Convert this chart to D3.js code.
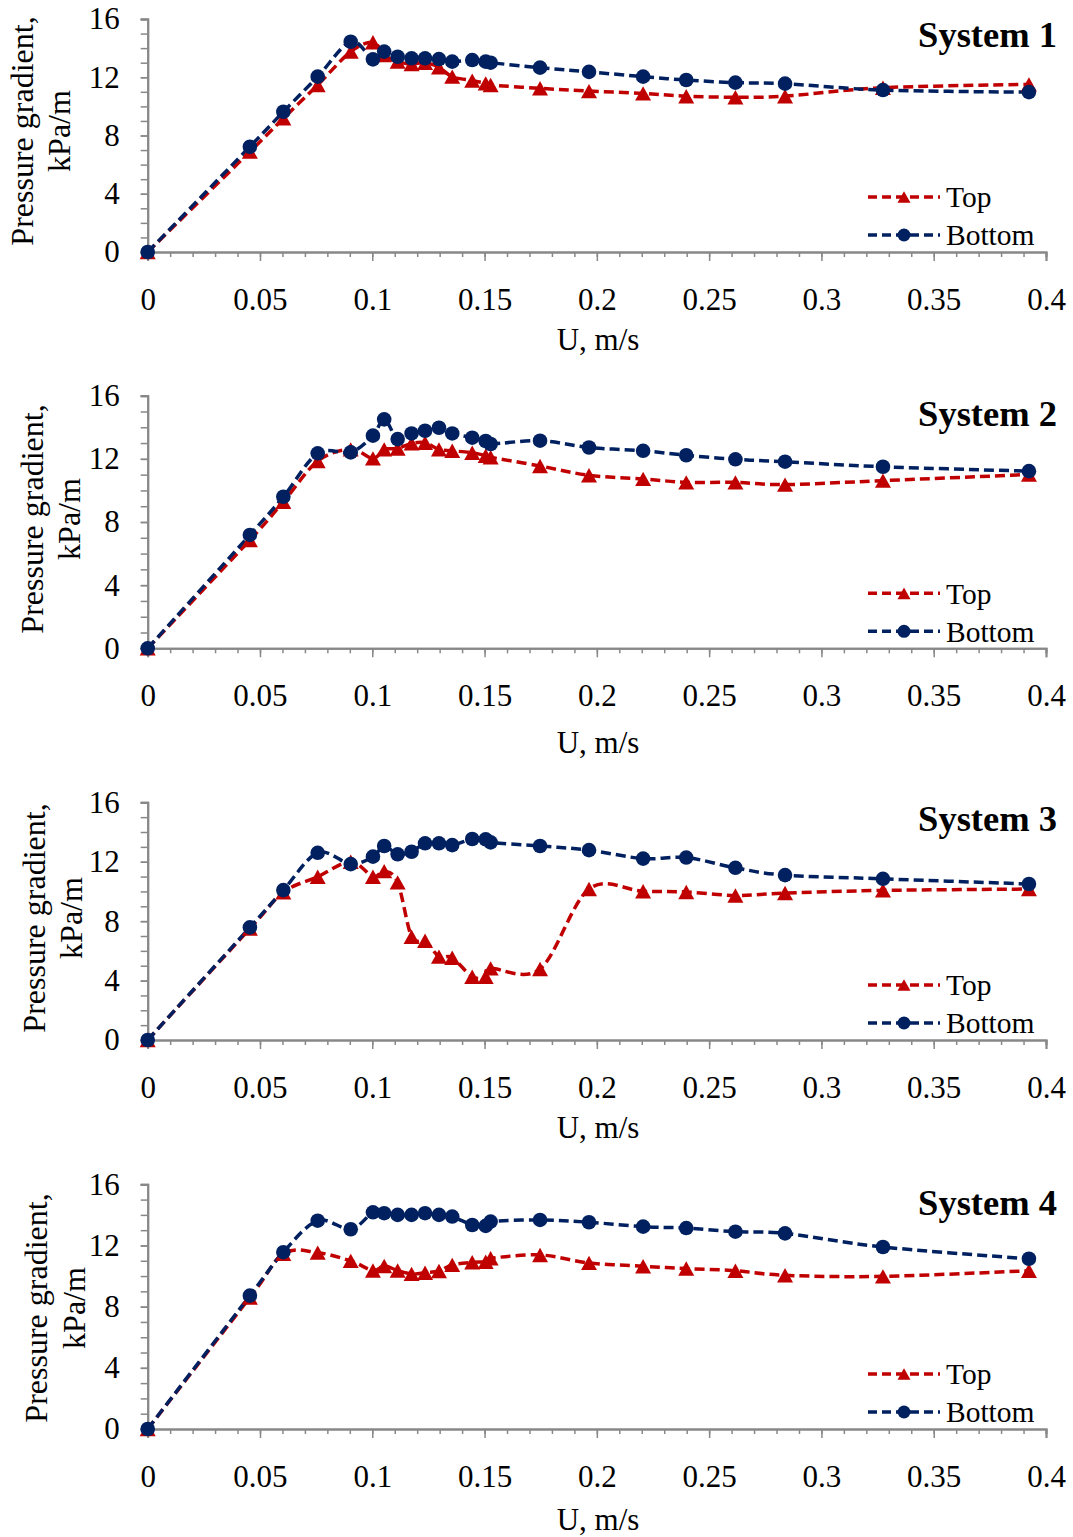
<!DOCTYPE html>
<html>
<head>
<meta charset="utf-8">
<script src="https://cdn.jsdelivr.net/npm/d3@7"></script>
<style>
  html, body { margin: 0; padding: 0; background: #fff; }
  svg text { font-family: "Liberation Serif", "Times New Roman", serif; fill: #000; }
</style>
</head>
<body>
<svg id="chart" width="1073" height="1537"></svg>
<script>
// ---- data ----
const velocity = [0, 0.0455, 0.0604, 0.0757, 0.0904, 0.1003, 0.1053, 0.1113, 0.1175, 0.1235, 0.1297, 0.1356,
  0.1445, 0.1505, 0.1527, 0.1747, 0.1965, 0.2206, 0.2398, 0.2617, 0.2838, 0.3274, 0.3924];

const sys1Top    = [0, 6.89, 9.18, 11.47, 13.76, 14.4, 13.53, 13.07, 12.91, 13.0, 12.68, 12.04, 11.77, 11.58, 11.47, 11.24, 11.05, 10.89, 10.70, 10.63, 10.70, 11.28, 11.51];
const sys1Bottom = [0, 7.23, 9.63, 12.04, 14.44, 13.23, 13.76, 13.41, 13.30, 13.30, 13.25, 13.07, 13.18, 13.07, 13.0, 12.66, 12.37, 12.04, 11.81, 11.63, 11.56, 11.12, 10.98];

const sys2Top    = [0, 6.86, 9.28, 11.86, 12.6, 12.03, 12.6, 12.66, 12.98, 13.02, 12.6, 12.51, 12.39, 12.2, 12.1, 11.55, 10.96, 10.73, 10.51, 10.51, 10.37, 10.62, 11.01];
const sys2Bottom = [0, 7.18, 9.6, 12.35, 12.41, 13.47, 14.5, 13.25, 13.61, 13.78, 13.97, 13.61, 13.34, 13.13, 12.94, 13.15, 12.72, 12.51, 12.23, 11.97, 11.82, 11.50, 11.22];

const sys3Top    = [0, 7.5, 9.94, 10.99, 12.0, 10.99, 11.37, 10.61, 6.95, 6.68, 5.61, 5.54, 4.26, 4.26, 4.82, 4.78, 10.16, 10.01, 9.96, 9.73, 9.89, 10.07, 10.16];
const sys3Bottom = [0, 7.58, 10.09, 12.6, 11.84, 12.34, 13.06, 12.5, 12.67, 13.24, 13.24, 13.12, 13.53, 13.51, 13.3, 13.06, 12.78, 12.21, 12.28, 11.59, 11.10, 10.85, 10.50];

const sys4Top    = [0, 8.6, 11.45, 11.53, 10.99, 10.36, 10.66, 10.36, 10.14, 10.22, 10.33, 10.73, 10.9, 10.94, 11.16, 11.38, 10.86, 10.64, 10.49, 10.35, 10.05, 9.98, 10.35];
const sys4Bottom = [0, 8.72, 11.56, 13.62, 13.06, 14.17, 14.11, 14.0, 14.0, 14.11, 14.0, 13.89, 13.34, 13.28, 13.56, 13.67, 13.52, 13.23, 13.14, 12.90, 12.79, 11.90, 11.13];

const panelTitles = ["System 1", "System 2", "System 3", "System 4"];
const seriesNames = ["Top", "Bottom"];
const yTickLabels = [0, 4, 8, 12, 16];
const xTickLabels = [0, 0.05, 0.1, 0.15, 0.2, 0.25, 0.3, 0.35, 0.4];
const xAxisTitle = "U, m/s";
const yAxisTitle = ["Pressure gradient,", "kPa/m"];

// ---- layout ----
const panels = [
  { title: panelTitles[0], top: sys1Top, bottom: sys1Bottom, y0: 252, y1: 19,    titleY: 47,   xTitleY: 350,  yt: [33, 70], ytc: 131 },
  { title: panelTitles[1], top: sys2Top, bottom: sys2Bottom, y0: 648.3, y1: 395.7, titleY: 426, xTitleY: 753,  yt: [43, 80], ytc: 519 },
  { title: panelTitles[2], top: sys3Top, bottom: sys3Bottom, y0: 1040, y1: 802.3, titleY: 831,  xTitleY: 1138, yt: [45, 82], ytc: 918 },
  { title: panelTitles[3], top: sys4Top, bottom: sys4Bottom, y0: 1429, y1: 1184.3, titleY: 1215, xTitleY: 1530, yt: [47, 85], ytc: 1308 }
];

const RED = "#C00000", BLUE = "#002060", AXIS = "#888888";
const FS = 31;
const svg = d3.select("#chart");
const x = d3.scaleLinear().domain([0, 0.4]).range([147.7, 1046]);

function triPath(cx, cy, s) {
  const h = s * 0.9;
  return `M${cx},${cy - h / 2}L${cx + s / 2},${cy + h / 2}L${cx - s / 2},${cy + h / 2}Z`;
}

panels.forEach(p => {
  const y = d3.scaleLinear().domain([0, 16]).range([p.y0, p.y1]);
  const g = svg.append("g");

  const xMinor = g.append("g").attr("transform", `translate(0,${p.y0})`)
    .call(d3.axisBottom(x).tickValues(d3.range(0, 41).map(i => i / 100)).tickSize(5).tickFormat(""));
  const xMajor = g.append("g").attr("transform", `translate(0,${p.y0})`)
    .call(d3.axisBottom(x).tickValues(xTickLabels).tickSize(9).tickPadding(27)
      .tickFormat(d => d === 0 ? "0" : String(+d.toFixed(2))));
  const yMinor = g.append("g").attr("transform", `translate(${x(0)},0)`)
    .call(d3.axisLeft(y).tickValues(d3.range(0, 17)).tickSize(7).tickFormat(""));
  const yMajor = g.append("g").attr("transform", `translate(${x(0)},0)`)
    .call(d3.axisLeft(y).tickValues(yTickLabels).tickSize(7).tickPadding(21));

  [xMinor, xMajor, yMinor, yMajor].forEach(a => {
    a.selectAll("path.domain").attr("stroke", AXIS).attr("stroke-width", 2);
    a.selectAll(".tick line").attr("stroke", AXIS).attr("stroke-width", 1.5);
    a.selectAll(".tick text").attr("font-size", FS).attr("font-family", "Liberation Serif").attr("fill", "#000");
  });

  const line = d3.line().x((d, i) => x(velocity[i])).y(d => y(d)).curve(d3.curveCardinal.tension(0));
  [{ v: p.top, c: RED }, { v: p.bottom, c: BLUE }].forEach(s => {
    g.append("path").datum(s.v).attr("d", line).attr("fill", "none")
      .attr("stroke", s.c).attr("stroke-width", 3.5).attr("stroke-dasharray", "10,5");
  });
  g.append("g").selectAll("path").data(p.top).join("path")
    .attr("d", (d, i) => triPath(x(velocity[i]), y(d), 16))
    .attr("fill", RED);
  g.append("g").selectAll("circle").data(p.bottom).join("circle")
    .attr("cx", (d, i) => x(velocity[i])).attr("cy", d => y(d)).attr("r", 7.3)
    .attr("fill", BLUE);

  g.append("text").attr("x", 1057).attr("y", p.titleY).attr("text-anchor", "end")
    .attr("font-size", 36.5).attr("font-weight", "bold").text(p.title);

  g.append("text").attr("x", 598).attr("y", p.xTitleY).attr("text-anchor", "middle")
    .attr("font-size", FS).text(xAxisTitle);

  yAxisTitle.forEach((t, k) => {
    g.append("text").attr("transform", `translate(${p.yt[k]},${p.ytc}) rotate(-90)`)
      .attr("text-anchor", "middle").attr("font-size", 32).text(t);
  });

  const legendRows = [
    { name: seriesNames[0], c: RED, dy: -55, marker: "tri" },
    { name: seriesNames[1], c: BLUE, dy: -17, marker: "circ" }
  ];
  legendRows.forEach(r => {
    const ly = p.y0 + r.dy;
    g.append("line").attr("x1", 868).attr("x2", 940).attr("y1", ly).attr("y2", ly)
      .attr("stroke", r.c).attr("stroke-width", 3.5).attr("stroke-dasharray", "9,5");
    if (r.marker === "tri") {
      g.append("path").attr("d", triPath(904, ly, 13)).attr("fill", r.c);
    } else {
      g.append("circle").attr("cx", 904).attr("cy", ly).attr("r", 6.5).attr("fill", r.c);
    }
    g.append("text").attr("x", 946).attr("y", ly).attr("dy", "0.35em")
      .attr("font-size", 29.5).text(r.name);
  });
});
</script>
</body>
</html>
